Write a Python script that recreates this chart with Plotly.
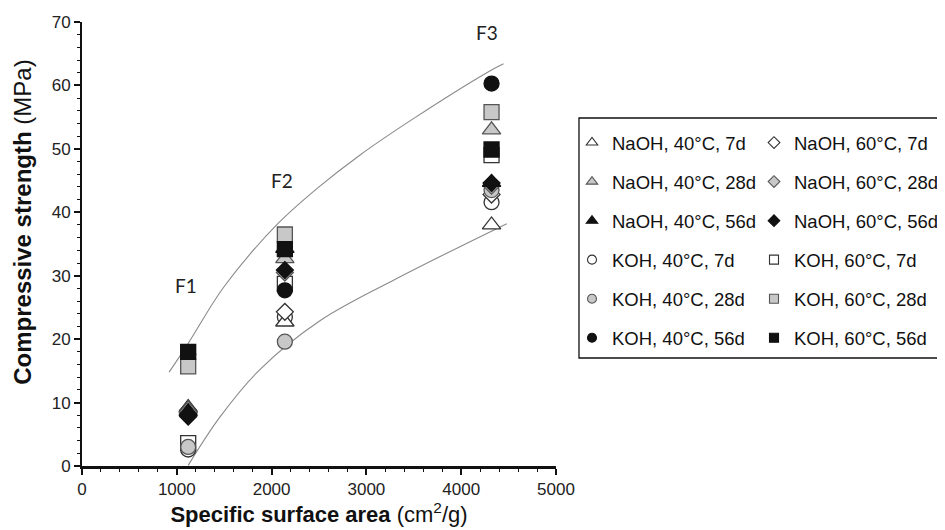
import plotly.graph_objects as go

# ---------------- data ----------------
surface_area = [1120, 2140, 4320]          # cm2/g for F1, F2, F3
fineness_labels = ["F1", "F2", "F3"]
label_y = [28.5, 45.0, 68.3]
label_x = [1095, 2110, 4275]

naoh40_7d = [9.2, 22.7, 38.0]
naoh40_28d = [9.0, 32.7, 53.0]
naoh40_56d = [8.6, 34.3, 44.7]
naoh60_7d = [8.8, 24.3, 42.8]
naoh60_28d = [8.3, 30.5, 44.2]
naoh60_56d = [7.8, 30.9, 44.6]
koh40_7d = [2.6, 23.5, 41.6]
koh40_28d = [3.0, 19.6, 43.5]
koh40_56d = [17.6, 27.7, 60.3]
koh60_7d = [3.6, 28.7, 49.0]
koh60_28d = [15.7, 36.5, 55.8]
koh60_56d = [18.0, 34.2, 49.9]

upper_curve_x = [919, 1119, 1500, 2053, 2500, 2930, 3500, 4270, 4446]
upper_curve_y = [14.8, 19.3, 28.3, 38.0, 44.0, 49.0, 54.8, 62.0, 63.4]
lower_curve_x = [1120, 1454, 1876, 2510, 3300, 4481]
lower_curve_y = [0.1, 7.7, 15.2, 22.9, 29.4, 38.2]

# ---------------- styles ----------------
WHITE, GREY, BLACK = "white", "#c8c8c8", "#111111"
EDGE = {WHITE: "#333333", GREY: "#555555", BLACK: "#111111"}
SIZE = {"triangle-up": 16, "diamond": 13, "circle": 15, "square": 15}
LEG_SIZE = {"triangle-up": 10, "diamond": 9, "circle": 9, "square": 9}

series = {
    "NaOH, 40°C, 7d": (naoh40_7d, "triangle-up", WHITE, "legend", 1),
    "NaOH, 40°C, 28d": (naoh40_28d, "triangle-up", GREY, "legend", 2),
    "NaOH, 40°C, 56d": (naoh40_56d, "triangle-up", BLACK, "legend", 3),
    "KOH, 40°C, 7d": (koh40_7d, "circle", WHITE, "legend", 4),
    "KOH, 40°C, 28d": (koh40_28d, "circle", GREY, "legend", 5),
    "KOH, 40°C, 56d": (koh40_56d, "circle", BLACK, "legend", 6),
    "NaOH, 60°C, 7d": (naoh60_7d, "diamond", WHITE, "legend2", 1),
    "NaOH, 60°C, 28d": (naoh60_28d, "diamond", GREY, "legend2", 2),
    "NaOH, 60°C, 56d": (naoh60_56d, "diamond", BLACK, "legend2", 3),
    "KOH, 60°C, 7d": (koh60_7d, "square", WHITE, "legend2", 4),
    "KOH, 60°C, 28d": (koh60_28d, "square", GREY, "legend2", 5),
    "KOH, 60°C, 56d": (koh60_56d, "square", BLACK, "legend2", 6),
}

draw_order = [
    "KOH, 60°C, 7d", "KOH, 40°C, 7d", "NaOH, 40°C, 7d", "NaOH, 60°C, 7d",
    "KOH, 40°C, 28d", "NaOH, 60°C, 28d", "NaOH, 40°C, 28d", "NaOH, 60°C, 56d",
    "NaOH, 40°C, 56d", "KOH, 40°C, 56d", "KOH, 60°C, 28d", "KOH, 60°C, 56d",
]

W, H = 937, 522   # the page adds an 8 px body margin around the figure

fig = go.Figure()

# trend curves
for cx, cy in [(upper_curve_x, upper_curve_y), (lower_curve_x, lower_curve_y)]:
    fig.add_trace(go.Scatter(x=cx, y=cy, mode="lines",
                             line=dict(color="#8a8a8a", width=1.1, shape="spline", smoothing=1.0),
                             showlegend=False, hoverinfo="skip"))

# data markers
for name in draw_order:
    vals, sym, fill, leg, rank = series[name]
    fig.add_trace(go.Scatter(
        x=surface_area, y=vals, mode="markers", name=name, showlegend=False,
        marker=dict(symbol=sym, size=SIZE[sym], color=fill, line=dict(color=EDGE[fill], width=1.3)),
    ))

# legend entries (smaller symbols, two columns)
for name, (vals, sym, fill, leg, rank) in series.items():
    fig.add_trace(go.Scatter(
        x=[None], y=[None], mode="markers", name=name, legend=leg, legendgroup=name, legendrank=rank,
        marker=dict(symbol=sym, size=LEG_SIZE[sym], color=fill, line=dict(color=EDGE[fill], width=1.1)),
    ))

for lx, ly, lt in zip(label_x, label_y, fineness_labels):
    fig.add_annotation(x=lx, y=ly, text=lt, showarrow=False, font=dict(family="Lato", size=19, color="#222"))

fig.add_annotation(
    xref="paper", yref="paper", x=-0.1245, y=0.55, xanchor="center", yanchor="middle",
    text="<b>Compressive strength</b> (MPa)",
    textangle=-90, showarrow=False, font=dict(family="Liberation Sans", size=24, color="#111"),
)

fig.add_shape(type="rect", xref="paper", yref="paper", x0=1.0485, x1=1.8165, y0=0.2432, y1=0.7838,
              line=dict(color="#111", width=1.3), fillcolor="rgba(0,0,0,0)", layer="below")

legend_common = dict(
    xref="container", yref="container", yanchor="top", xanchor="left",
    font=dict(family="Liberation Sans", size=18.5, color="#111"),
    bgcolor="rgba(0,0,0,0)", borderwidth=0, traceorder="grouped", tracegroupgap=12, itemwidth=30,
    itemclick=False, itemdoubleclick=False,
)

fig.update_layout(
    width=W, height=H,
    margin=dict(l=74, r=389, t=14, b=64, autoexpand=False),
    plot_bgcolor="white", paper_bgcolor="white",
    font=dict(family="Liberation Sans", color="#111"),
    legend=dict(x=564 / W, y=1 - 116 / H, **legend_common),
    legend2=dict(x=746 / W, y=1 - 116 / H, **legend_common),
    xaxis=dict(
        range=[0, 5000], dtick=1000, tick0=0, showgrid=False, zeroline=False, automargin=False,
        showline=True, linecolor="#111", linewidth=2.5, ticks="outside", ticklen=6, tickwidth=1.5, tickcolor="#111",
        minor=dict(dtick=200, ticks="outside", ticklen=3, tickwidth=1.2, tickcolor="#111"),
        tickfont=dict(size=17, color="#222"),
        title=dict(text="<b>Specific surface area</b> (cm<sup>2</sup>/g)", font=dict(size=22, color="#111"), standoff=3),
    ),
    yaxis=dict(
        range=[0, 70], dtick=10, tick0=0, showgrid=False, zeroline=False, automargin=False,
        showline=True, linecolor="#111", linewidth=2, ticks="outside", ticklen=6, tickwidth=1.5, tickcolor="#111",
        minor=dict(dtick=2, ticks="outside", ticklen=3, tickwidth=1.2, tickcolor="#111"),
        tickfont=dict(size=17, color="#222"),
    ),
)

fig.write_html("out.html")
